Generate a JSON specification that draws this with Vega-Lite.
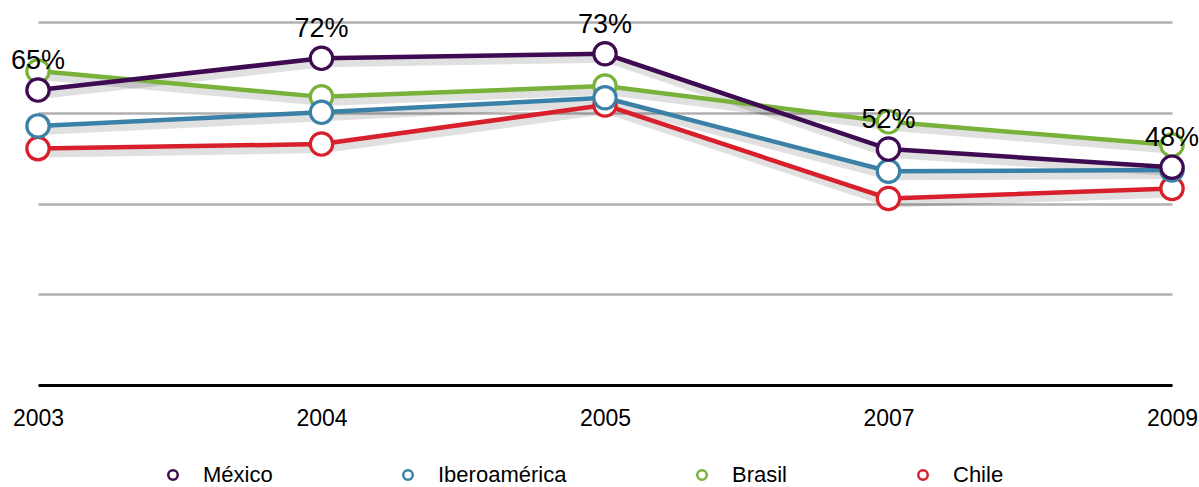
{
  "$schema": "https://vega.github.io/schema/vega-lite/v6.json",
  "width": 1134,
  "height": 363,
  "autosize": "none",
  "padding": {"left": 38, "top": 22, "right": 27, "bottom": 102},
  "background": "white",
  "config": {
    "view": {"stroke": null},
    "font": "Liberation Sans"
  },
  "data": {
    "values": [
      {"year": "2003", "series": "Chile", "value": 0.521},
      {"year": "2004", "series": "Chile", "value": 0.531},
      {"year": "2005", "series": "Chile", "value": 0.617},
      {"year": "2007", "series": "Chile", "value": 0.411},
      {"year": "2009", "series": "Chile", "value": 0.433},
      {"year": "2003", "series": "Brasil", "value": 0.692},
      {"year": "2004", "series": "Brasil", "value": 0.635},
      {"year": "2005", "series": "Brasil", "value": 0.659},
      {"year": "2007", "series": "Brasil", "value": 0.58},
      {"year": "2009", "series": "Brasil", "value": 0.529},
      {"year": "2003", "series": "Iberoamérica", "value": 0.571},
      {"year": "2004", "series": "Iberoamérica", "value": 0.601},
      {"year": "2005", "series": "Iberoamérica", "value": 0.633},
      {"year": "2007", "series": "Iberoamérica", "value": 0.471},
      {"year": "2009", "series": "Iberoamérica", "value": 0.474},
      {"year": "2003", "series": "México", "value": 0.65},
      {"year": "2004", "series": "México", "value": 0.72},
      {"year": "2005", "series": "México", "value": 0.73},
      {"year": "2007", "series": "México", "value": 0.52},
      {"year": "2009", "series": "México", "value": 0.48}
    ]
  },
  "encoding": {
    "x": {
      "field": "year",
      "type": "ordinal",
      "scale": {"type": "point", "padding": 0},
      "axis": {
        "title": null,
        "labelAngle": 0,
        "ticks": false,
        "labelFontSize": 23,
        "labelColor": "#000",
        "labelPadding": 22,
        "labelFont": "Liberation Sans",
        "domainColor": "#000",
        "domainWidth": 3,
        "labelFlush": false,
        "grid": false
      }
    },
    "y": {
      "field": "value",
      "type": "quantitative",
      "scale": {"domain": [0, 0.8], "nice": false, "zero": true},
      "axis": {
        "title": null,
        "labels": false,
        "ticks": false,
        "domain": false,
        "values": [0.2, 0.4, 0.6, 0.8],
        "grid": true,
        "gridColor": "#b0b0b0",
        "gridWidth": 2.5
      }
    }
  },
  "layer": [
    {
      "mark": {"type": "line", "strokeWidth": 8, "color": "#000", "opacity": 0.12, "yOffset": 5, "xOffset": 2},
      "encoding": {"detail": {"field": "series"}}
    },
    {
      "mark": {"type": "line", "strokeWidth": 4.5},
      "encoding": {
        "color": {
          "field": "series",
          "type": "nominal",
          "scale": {
            "domain": ["México", "Iberoamérica", "Brasil", "Chile"],
            "range": ["#3e0b52", "#3b80a7", "#79b23a", "#d7202b"]
          },
          "legend": {
            "title": null,
            "orient": "none",
            "direction": "horizontal",
            "columns": 4,
            "legendX": 124,
            "legendY": 442,
            "columnPadding": 124,
            "symbolType": "circle",
            "symbolSize": 90,
            "symbolStrokeWidth": 2.5,
            "symbolFillColor": "white",
            "labelFontSize": 22,
            "labelFont": "Liberation Sans",
            "labelColor": "#000",
            "labelOffset": 19,
            "labelLimit": 300
          }
        }
      }
    },
    {
      "mark": {"type": "point", "shape": "circle", "filled": false, "fill": "white", "fillOpacity": 1, "size": 500, "strokeWidth": 3.2, "opacity": 1},
      "encoding": {
        "stroke": {
          "field": "series",
          "type": "nominal",
          "scale": {
            "domain": ["México", "Iberoamérica", "Brasil", "Chile"],
            "range": ["#3e0b52", "#3b80a7", "#79b23a", "#d7202b"]
          },
          "legend": null
        }
      }
    },
    {
      "transform": [{"filter": "datum.series === 'México'"}],
      "mark": {"type": "text", "fontSize": 27, "dy": -21, "baseline": "alphabetic", "align": "center", "color": "#000", "font": "Liberation Sans"},
      "encoding": {
        "text": {"field": "value", "type": "quantitative", "format": ".0%"}
      }
    }
  ]
}
